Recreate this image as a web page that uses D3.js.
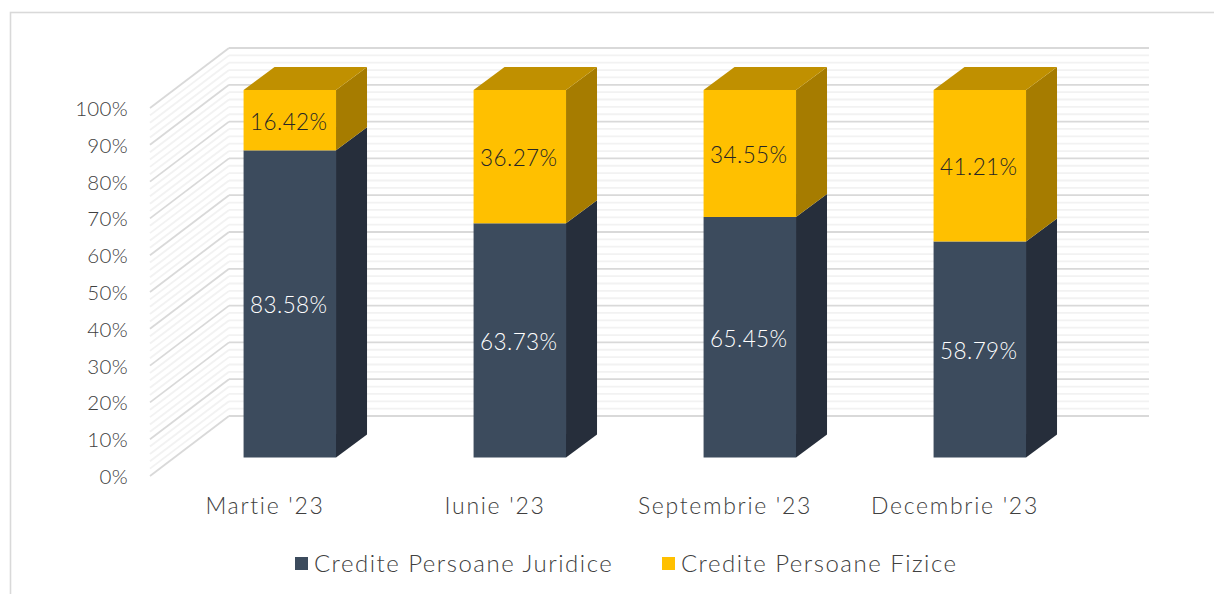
<!DOCTYPE html>
<html>
<head>
<meta charset="utf-8">
<script src="https://cdn.jsdelivr.net/npm/d3@7"></script>
<style>
html,body{margin:0;padding:0;background:#fff;overflow:hidden}
text{font-family:"Century Gothic",Lato,"Open Sans",sans-serif;font-weight:300}
</style>
</head>
<body>
<div id="graph"></div>
<script>
const categories = ["Martie '23","Iunie '23","Septembrie '23","Decembrie '23"];
const juridice = [83.58,63.73,65.45,58.79];
const fizice = [16.42,36.27,34.55,41.21];
const seriesNames = ['Credite Persoane Juridice','Credite Persoane Fizice'];
const majorTicks = [0,10,20,30,40,50,60,70,80,90,100];
const minorTicks = [2,4,6,8,12,14,16,18,22,24,26,28,32,34,36,38,42,44,46,48,52,54,56,58,62,64,66,68,72,74,76,78,82,84,86,88,92,94,96,98];

const w = 1214;
const h = 594;

const colors = {
	dark:{front:'#3c4b5d',side:'#262e3b'},
	gold:{front:'#ffc000',side:'#a67c00',top:'#c09000'}
};

// floor front edge runs 150..1070, the back wall sits up and to the right of it
const xScale = d3.scaleBand().domain(categories).range([150,1070]).paddingInner(0.598).paddingOuter(0.299);
const yWall = d3.scaleLinear().domain([0,100]).range([476,108]);
const yBar = d3.scaleLinear().domain([0,100]).range([457.5,90]);
const wallDx = 79, wallDy = -60;
const barDx = 31, barDy = -23;
const barShift = 24.8;

const svg = d3.select('#graph').append('svg').attr('width',w).attr('height',h).style('display','block');

svg.append('rect')
	.attr('x',10.5).attr('y',12.5).attr('width',w+50).attr('height',h+50)
	.style('fill','#fff').style('stroke','#d9d9d9').style('stroke-width',1.6);

function drawGrid(ticks,color,width){
	const g = svg.append('g');
	g.selectAll('.wall').data(ticks).enter().append('line')
		.attr('x1',150).attr('y1',d=>yWall(d))
		.attr('x2',150+wallDx).attr('y2',d=>yWall(d)+wallDy)
		.style('stroke',color).style('stroke-width',width);
	g.selectAll('.back').data(ticks).enter().append('line')
		.attr('x1',150+wallDx).attr('y1',d=>yWall(d)+wallDy)
		.attr('x2',1149).attr('y2',d=>yWall(d)+wallDy)
		.style('stroke',color).style('stroke-width',width);
}
drawGrid(minorTicks,'#f2f2f2',1.8);
drawGrid(majorTicks,'#d9d9d9',1.8);

const poly = pts => pts.map(p=>p.join(',')).join(' ');

const bars = svg.append('g').selectAll('g').data(categories).enter().append('g')
	.attr('transform',d=>`translate(${xScale(d)+barShift},0)`);
const bw = xScale.bandwidth();

// lower block
bars.append('polygon')
	.attr('points',(d,i)=>poly([[bw,yBar(0)],[bw+barDx,yBar(0)+barDy],[bw+barDx,yBar(juridice[i])+barDy],[bw,yBar(juridice[i])]]))
	.style('fill',colors.dark.side);
bars.append('rect')
	.attr('x',0).attr('y',(d,i)=>yBar(juridice[i])).attr('width',bw)
	.attr('height',(d,i)=>yBar(0)-yBar(juridice[i]))
	.style('fill',colors.dark.front);

// upper block
bars.append('polygon')
	.attr('points',(d,i)=>poly([[bw,yBar(juridice[i])],[bw+barDx,yBar(juridice[i])+barDy],[bw+barDx,yBar(100)+barDy],[bw,yBar(100)]]))
	.style('fill',colors.gold.side);
bars.append('polygon')
	.attr('points',poly([[0,yBar(100)],[barDx,yBar(100)+barDy],[bw+barDx,yBar(100)+barDy],[bw,yBar(100)]]))
	.style('fill',colors.gold.top);
bars.append('rect')
	.attr('x',0).attr('y',yBar(100)).attr('width',bw)
	.attr('height',(d,i)=>yBar(juridice[i])-yBar(100))
	.style('fill',colors.gold.front);

// data labels
bars.append('text')
	.attr('x',bw/2-1).attr('y',(d,i)=>(yBar(0)+yBar(juridice[i]))/2+1.5)
	.attr('dy','.35em').attr('text-anchor','middle')
	.style('font-size','22.5px').style('letter-spacing','0.4px').style('fill','#fff')
	.text((d,i)=>juridice[i].toFixed(2)+'%');
bars.append('text')
	.attr('x',bw/2-1).attr('y',(d,i)=>(yBar(100)+yBar(juridice[i]))/2+1.5)
	.attr('dy','.35em').attr('text-anchor','middle')
	.style('font-size','22.5px').style('letter-spacing','0.4px').style('fill','#262626')
	.text((d,i)=>fizice[i].toFixed(2)+'%');

// axes
const yAxis = d3.axisLeft(yWall).tickValues(majorTicks).tickSize(0).tickPadding(0).tickFormat(d=>d+'%');
const yG = svg.append('g').attr('transform','translate(128,1)').call(yAxis);
yG.select('.domain').remove();
yG.selectAll('text').style('font-size','20.5px').style('letter-spacing','0.3px').style('fill','#404040').style('font-family','"Century Gothic",Lato,sans-serif');

const xAxis = d3.axisBottom(xScale).tickSize(0).tickPadding(0);
const xG = svg.append('g').attr('transform','translate(0,498)').call(xAxis);
xG.select('.domain').remove();
xG.selectAll('text').style('font-size','23px').style('letter-spacing','1.7px').style('fill','#404040').style('font-family','"Century Gothic",Lato,sans-serif');

// legend
const legendX = [295,662];
const legendFill = [colors.dark.front,colors.gold.front];
const legend = svg.append('g').selectAll('g').data(seriesNames).enter().append('g')
	.attr('transform',(d,i)=>`translate(${legendX[i]},557)`);
legend.append('rect').attr('width',13).attr('height',13).style('fill',(d,i)=>legendFill[i]);
legend.append('text')
	.attr('x',19).attr('y',7).attr('dy','.35em')
	.style('font-size','24px').style('letter-spacing','1.5px').style('fill','#404040')
	.text(d=>d);
</script>
</body>
</html>
